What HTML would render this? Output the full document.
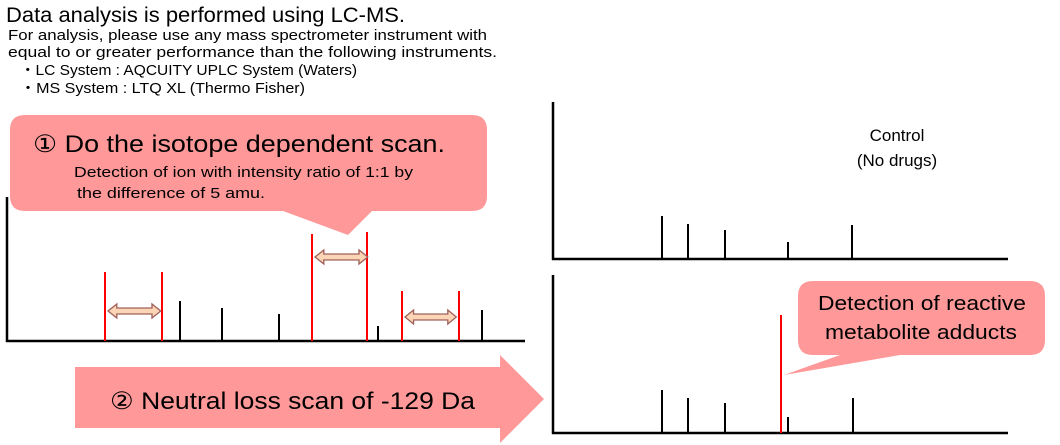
<!DOCTYPE html>
<html><head><style>body{margin:0;background:#fff}svg{display:block}</style></head><body>
<svg width="1060" height="445" xmlns="http://www.w3.org/2000/svg" font-family="'Liberation Sans', sans-serif">
<defs>
<g id="dar"><path d="M0,0 l8,-7 v4 h32 v-4 l8,7 l-8,7 v-4 h-32 v4 z" fill="#fbd5b5" stroke="#a0605a" stroke-width="1.2"/></g>
</defs>
<g fill="#000">
<text x="6" y="22" font-size="21" textLength="399" lengthAdjust="spacingAndGlyphs">Data analysis is performed using LC-MS.</text>
<text x="8" y="40" font-size="15" textLength="479" lengthAdjust="spacingAndGlyphs">For analysis, please use any mass spectrometer instrument with</text>
<text x="8" y="57" font-size="15" textLength="489" lengthAdjust="spacingAndGlyphs">equal to or greater performance than the following instruments.</text>
<text x="20" y="75" font-size="15" textLength="337" lengthAdjust="spacingAndGlyphs">・LC System : AQCUITY UPLC System  (Waters)</text>
<text x="20" y="93" font-size="15" textLength="285" lengthAdjust="spacingAndGlyphs">・MS System : LTQ XL  (Thermo Fisher)</text>
</g>
<!-- left chart -->
<g stroke="#000" stroke-width="2.5">
<line x1="7" y1="197" x2="7" y2="342"/>
<line x1="6" y1="341" x2="525" y2="341"/>
</g>
<g stroke="#000" stroke-width="2">
<line x1="180" y1="301" x2="180" y2="341"/>
<line x1="222" y1="308" x2="222" y2="341"/>
<line x1="279" y1="314" x2="279" y2="341"/>
<line x1="378" y1="326" x2="378" y2="341"/>
<line x1="482" y1="310" x2="482" y2="341"/>
</g>
<g stroke="#f00" stroke-width="2">
<line x1="105" y1="272" x2="105" y2="341"/>
<line x1="162" y1="272" x2="162" y2="341"/>
<line x1="312" y1="234" x2="312" y2="341"/>
<line x1="367" y1="232" x2="367" y2="341"/>
<line x1="402" y1="291" x2="402" y2="341"/>
<line x1="459" y1="291" x2="459" y2="341"/>
</g>
<use href="#dar" transform="translate(108,311) scale(1.1,1)"/>
<use href="#dar" transform="translate(315,257) scale(1.1,1)"/>
<use href="#dar" transform="translate(405,317) scale(1.07,1)"/>
<!-- callout 1 -->
<path d="M25,115 H472 Q487,115 487,130 V196 Q487,211 472,211 H372 L348,235 L283,211 H25 Q10,211 10,196 V130 Q10,115 25,115 Z" fill="#ff9999"/>
<text x="33" y="152" font-size="24" fill="#000" textLength="412" lengthAdjust="spacingAndGlyphs">① Do the isotope dependent scan.</text>
<text x="74" y="177" font-size="15" fill="#000" textLength="339" lengthAdjust="spacingAndGlyphs">Detection of ion with intensity  ratio of 1:1 by</text>
<text x="77" y="198" font-size="15" fill="#000" textLength="188" lengthAdjust="spacingAndGlyphs">the difference of  5 amu.</text>
<!-- arrow 2 -->
<path d="M75,367 H500 V355 L544,399 L500,443 V428 H75 Z" fill="#ff9999"/>
<text x="110" y="409" font-size="24" fill="#000" textLength="365" lengthAdjust="spacingAndGlyphs">② Neutral loss scan of -129 Da</text>
<!-- right charts -->
<g stroke="#000" stroke-width="2.5">
<line x1="553" y1="102" x2="553" y2="260"/>
<line x1="552" y1="259" x2="1008" y2="259"/>
<line x1="553" y1="275" x2="553" y2="434"/>
<line x1="552" y1="433" x2="1008" y2="433"/>
</g>
<g stroke="#000" stroke-width="2">
<line x1="662" y1="216" x2="662" y2="259"/>
<line x1="688" y1="224" x2="688" y2="259"/>
<line x1="725" y1="230" x2="725" y2="259"/>
<line x1="788" y1="242" x2="788" y2="259"/>
<line x1="852" y1="225" x2="852" y2="259"/>
<line x1="662" y1="390" x2="662" y2="433"/>
<line x1="688" y1="398" x2="688" y2="433"/>
<line x1="725" y1="403" x2="725" y2="433"/>
<line x1="788" y1="417" x2="788" y2="433"/>
<line x1="853" y1="398" x2="853" y2="433"/>
</g>
<text x="897" y="141" font-size="17" text-anchor="middle">Control</text>
<text x="897" y="166" font-size="17" text-anchor="middle">(No drugs)</text>
<line x1="781" y1="315" x2="781" y2="433" stroke="#f00" stroke-width="2"/>
<path d="M813,281 H1030 Q1045,281 1045,296 V340 Q1045,355 1030,355 H900 L784,375 L840,355 H813 Q798,355 798,340 V296 Q798,281 813,281 Z" fill="#ff9999"/>
<text x="818" y="310" font-size="20" fill="#000" textLength="208" lengthAdjust="spacingAndGlyphs">Detection of reactive</text>
<text x="825" y="339" font-size="20" fill="#000" textLength="192" lengthAdjust="spacingAndGlyphs">metabolite adducts</text>
</svg>
</body></html>
